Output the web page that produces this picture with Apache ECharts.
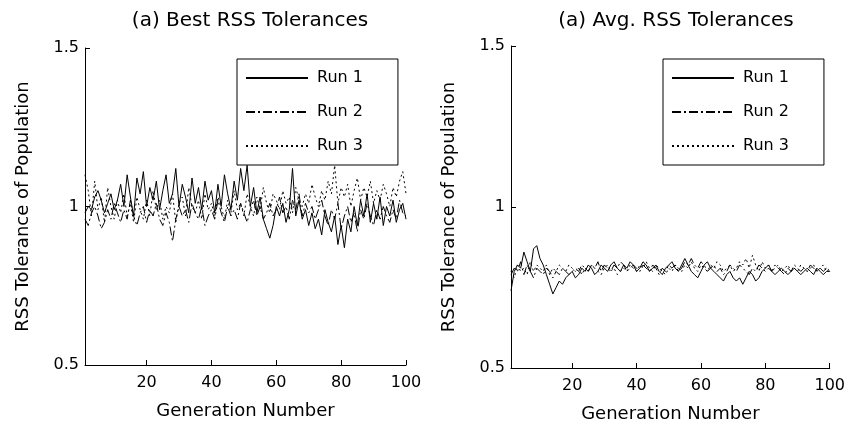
<!DOCTYPE html>
<html><head><meta charset="utf-8">
<script src="https://cdn.jsdelivr.net/npm/echarts@6/dist/echarts.min.js"></script>
<style>html,body{margin:0;padding:0;background:#fff}#c{width:848px;height:428px}</style>
</head><body><div id="c"></div>
<script>
const generations = Array.from({length:100},(_,i)=>i+1);
const xTicks = [20,40,60,80,100];
const yTicks = [0.5,1,1.5];
const titles = ['(a) Best RSS Tolerances','(a) Avg. RSS Tolerances'];
const runNames = ['Run 1','Run 2','Run 3'];

const bestRun1 = [0.98,1.00,0.99,1.03,1.05,1.02,0.98,1.01,1.04,0.99,
1.02,1.07,1.00,1.10,1.03,0.97,1.09,1.04,1.11,1.00,
1.06,1.02,1.08,0.99,1.05,1.10,1.01,1.04,1.12,1.00,
1.07,1.03,0.98,1.09,1.01,1.06,0.99,1.08,1.02,1.05,
0.98,1.07,1.00,1.10,1.04,0.99,1.08,1.02,1.12,1.05,
1.13,1.00,1.06,0.98,1.03,0.96,0.93,0.90,0.94,1.00,
0.97,1.01,0.95,0.99,1.12,0.97,1.02,0.96,0.99,0.94,
0.98,0.93,0.96,0.91,0.99,0.95,0.92,0.97,0.88,0.94,
0.87,0.96,0.92,1.00,0.94,1.02,0.97,1.04,0.95,1.01,
0.96,1.03,0.94,1.00,0.97,1.02,0.95,0.99,1.01,0.96];
const bestRun2 = [0.96,0.94,0.98,1.00,0.97,0.93,0.95,0.99,0.96,1.01,
0.98,0.95,0.99,0.96,1.02,0.97,0.94,0.98,1.00,0.95,
0.99,0.97,1.01,0.96,0.94,0.98,0.95,0.89,0.96,1.00,
0.97,0.99,0.95,1.01,0.98,0.96,1.00,0.94,0.97,0.99,
0.96,1.02,0.98,0.95,1.00,0.97,0.99,0.96,1.01,0.98,
0.95,0.99,1.02,0.97,1.00,0.96,0.98,1.01,0.97,0.99,
1.03,0.98,1.00,0.96,1.02,0.99,1.04,0.97,1.01,0.98,
1.00,0.96,0.99,1.02,0.97,0.94,0.99,0.96,1.01,0.93,
0.97,1.00,0.95,0.98,0.92,0.99,0.96,1.01,0.97,0.94,
0.99,0.96,1.00,0.97,0.95,0.99,0.96,1.02,0.98,0.97];
const bestRun3 = [1.10,1.05,0.97,1.08,0.99,1.03,0.95,1.06,1.00,0.96,
1.02,0.98,1.04,0.97,1.01,0.95,1.03,0.99,0.96,1.02,
0.97,1.05,0.99,1.02,0.96,1.00,0.98,1.04,0.95,1.01,
1.03,0.97,1.06,1.00,0.98,1.02,0.96,1.04,0.99,1.01,
0.97,1.03,1.00,0.96,1.02,0.98,1.05,0.99,1.01,0.97,
1.04,1.00,0.97,1.03,0.99,1.06,1.01,0.98,1.04,1.02,
0.99,1.05,1.01,1.03,0.98,1.06,1.02,1.00,1.04,1.01,
1.07,1.03,1.00,1.05,1.02,1.08,1.04,1.13,1.01,1.06,
1.03,1.07,1.00,1.05,1.09,1.02,1.06,1.03,1.08,1.01,
1.05,1.02,1.07,1.04,1.00,1.06,1.03,1.08,1.11,1.04];

const avgRun1 = [0.74,0.80,0.82,0.81,0.86,0.83,0.80,0.87,0.88,0.84,
0.82,0.79,0.76,0.73,0.75,0.77,0.76,0.78,0.79,0.80,
0.78,0.79,0.81,0.80,0.82,0.81,0.79,0.80,0.82,0.81,
0.80,0.82,0.83,0.81,0.80,0.82,0.81,0.83,0.82,0.80,
0.81,0.83,0.82,0.80,0.81,0.82,0.80,0.79,0.81,0.82,
0.83,0.81,0.80,0.82,0.84,0.82,0.80,0.79,0.78,0.80,
0.82,0.83,0.81,0.80,0.79,0.78,0.77,0.79,0.80,0.78,
0.77,0.78,0.76,0.78,0.80,0.79,0.77,0.78,0.80,0.81,
0.82,0.80,0.79,0.80,0.81,0.80,0.79,0.80,0.81,0.80,
0.79,0.80,0.81,0.80,0.79,0.81,0.80,0.79,0.80,0.80];
const avgRun2 = [0.79,0.81,0.80,0.83,0.79,0.82,0.80,0.78,0.81,0.80,
0.79,0.81,0.80,0.78,0.80,0.79,0.81,0.80,0.79,0.80,
0.81,0.80,0.82,0.81,0.80,0.82,0.81,0.83,0.80,0.82,
0.81,0.80,0.82,0.81,0.83,0.82,0.80,0.81,0.82,0.81,
0.80,0.82,0.81,0.80,0.82,0.81,0.79,0.81,0.80,0.82,
0.81,0.82,0.80,0.81,0.83,0.82,0.84,0.82,0.81,0.83,
0.82,0.80,0.81,0.82,0.80,0.81,0.79,0.80,0.82,0.81,
0.80,0.82,0.81,0.80,0.79,0.81,0.80,0.82,0.81,0.80,
0.81,0.80,0.82,0.81,0.80,0.79,0.81,0.80,0.82,0.81,
0.80,0.81,0.80,0.82,0.81,0.80,0.81,0.80,0.81,0.80];
const avgRun3 = [0.80,0.78,0.82,0.80,0.81,0.79,0.83,0.80,0.82,0.81,
0.80,0.82,0.79,0.81,0.80,0.82,0.81,0.80,0.82,0.81,
0.80,0.81,0.79,0.81,0.80,0.82,0.81,0.80,0.79,0.81,
0.82,0.80,0.81,0.79,0.80,0.81,0.80,0.82,0.81,0.80,
0.82,0.81,0.83,0.81,0.80,0.82,0.81,0.80,0.79,0.81,
0.80,0.82,0.81,0.80,0.82,0.81,0.83,0.81,0.80,0.82,
0.81,0.80,0.82,0.81,0.83,0.82,0.80,0.81,0.82,0.80,
0.81,0.83,0.82,0.84,0.81,0.85,0.82,0.80,0.83,0.81,
0.82,0.80,0.81,0.82,0.80,0.81,0.82,0.80,0.81,0.80,
0.82,0.81,0.80,0.81,0.82,0.80,0.81,0.82,0.80,0.81];

const dashes = ['solid',[9,3,2,3],[2,3]];
const FONT = '"DejaVu Sans", Verdana, sans-serif';
const chart = echarts.init(document.getElementById('c'));

function xAxisCfg(i){
  return {type:'value', gridIndex:i, min:1, max:100,
    name:'Generation Number', nameLocation:'middle', nameGap:37,
    nameTextStyle:{color:'#000', fontSize:18, fontFamily:FONT},
    axisLine:{show:true, lineStyle:{color:'#000', width:1}},
    axisTick:{show:true, inside:true, length:5, lineStyle:{color:'#000'}, customValues:xTicks},
    axisLabel:{color:'#000', fontSize:16, fontFamily:FONT, margin:10, customValues:xTicks},
    splitLine:{show:false}};
}
function yAxisCfg(i){
  return {type:'value', gridIndex:i, min:0.5, max:1.5, interval:0.5,
    name:'RSS Tolerance of Population', nameLocation:'middle', nameGap:53,
    nameTextStyle:{color:'#000', fontSize:18, fontFamily:FONT},
    axisLine:{show:true, lineStyle:{color:'#000', width:1}},
    axisTick:{show:true, inside:true, length:5, lineStyle:{color:'#000'}},
    axisLabel:{color:'#000', fontSize:16, fontFamily:FONT, margin:6},
    splitLine:{show:false}};
}
const sets = [[bestRun1,bestRun2,bestRun3],[avgRun1,avgRun2,avgRun3]];
const series = [];
sets.forEach((s,gi)=>{
  s.forEach((vals,ri)=>{
    series.push({type:'line', name:runNames[ri], xAxisIndex:gi, yAxisIndex:gi,
      data:generations.map((g,k)=>[g,vals[k]]), symbol:'none', showSymbol:false, animation:false,
      itemStyle:{color:'#000'},
      lineStyle:{color:'#000', width:1, type:dashes[ri]}});
  });
});
function legendCfg(left){
  return {data:runNames, orient:'vertical', left:left, top:59,
    itemWidth:62, itemHeight:14, itemGap:18, padding:[11,35,11,8],
    itemStyle:{opacity:0, borderWidth:0},
    borderColor:'#000', borderWidth:1, backgroundColor:'#fff', selectedMode:false,
    textStyle:{color:'#000', fontSize:16, fontFamily:FONT, padding:[0,0,0,4]}};
}
chart.setOption({
  animation:false,
  backgroundColor:'#fff',
  title:[
    {text:titles[0], left:245, top:6, textAlign:'center', textStyle:{color:'#000', fontWeight:'normal', fontSize:20, fontFamily:FONT}},
    {text:titles[1], left:671, top:6, textAlign:'center', textStyle:{color:'#000', fontWeight:'normal', fontSize:20, fontFamily:FONT}}
  ],
  legend:[legendCfg(237), legendCfg(663)],
  grid:[{left:85, top:48, width:321, height:317},{left:511, top:46, width:321, height:322}],
  xAxis:[xAxisCfg(0), xAxisCfg(1)],
  yAxis:[yAxisCfg(0), yAxisCfg(1)],
  series:series
});
</script></body></html>
